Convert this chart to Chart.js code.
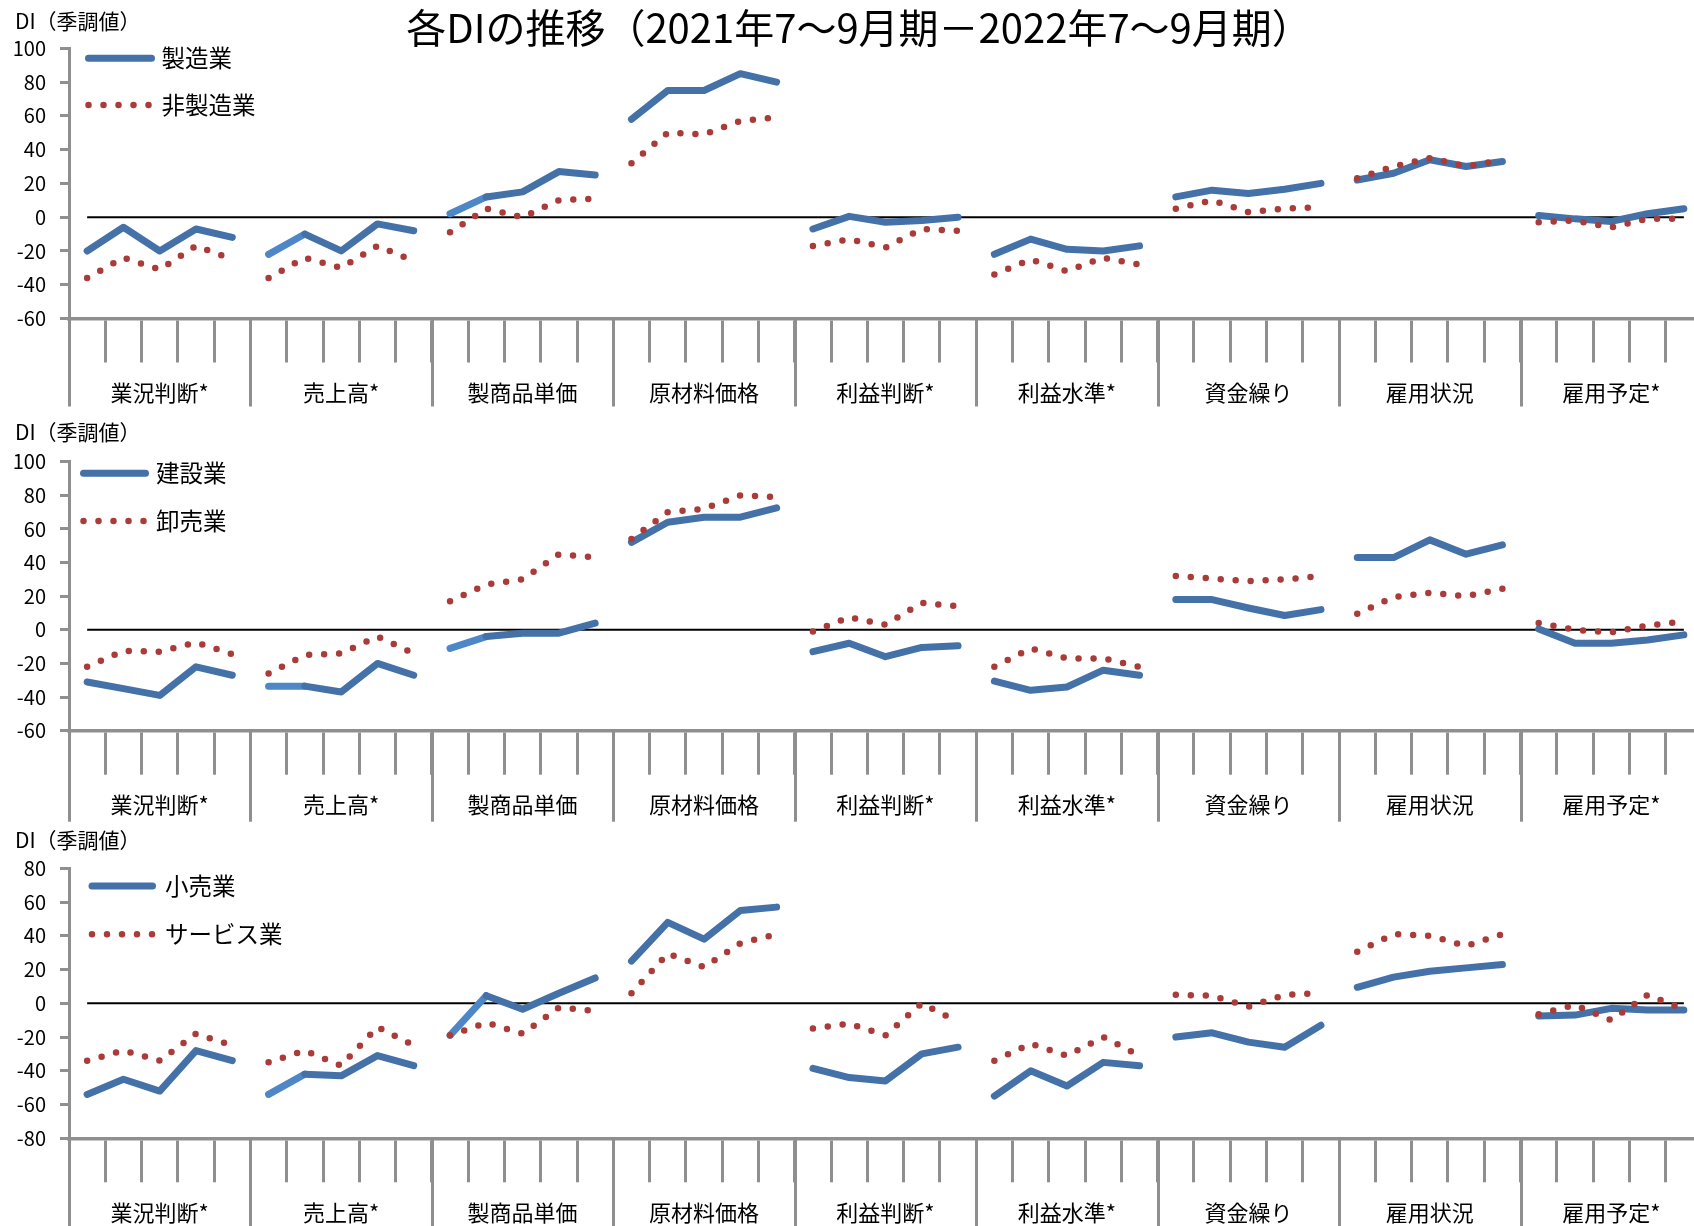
<!DOCTYPE html>
<html lang="ja">
<head>
<meta charset="utf-8">
<title>各DIの推移</title>
<script src="https://cdn.jsdelivr.net/npm/chart.js@4.4.1/dist/chart.umd.min.js"></script>
<style>
  html, body { margin: 0; padding: 0; background: #fff; overflow: hidden; }
  #page { position: relative; width: 1694px; height: 1226px; overflow: hidden; background: #fff; }
  .panel { position: absolute; left: 0; }
  canvas { display: block; }
</style>
</head>
<body>
<div id="page">
  <div class="panel" style="top:0px"><canvas id="c1" width="1710" height="420" style="width:1710px;height:420px"></canvas></div>
  <div class="panel" style="top:410px"><canvas id="c2" width="1710" height="420" style="width:1710px;height:420px"></canvas></div>
  <div class="panel" style="top:820px"><canvas id="c3" width="1710" height="406" style="width:1710px;height:406px"></canvas></div>
</div>
<script>
// ---- survey items (groups on the x axis) and the five quarters inside each group ----
const categories = ['業況判断*', '売上高*', '製商品単価', '原材料価格', '利益判断*', '利益水準*', '資金繰り', '雇用状況', '雇用予定*'];
const quarters = ['2021年7～9月', '10～12月', '2022年1～3月', '4～6月', '7～9月'];

const chartTitle = '各DIの推移（2021年7～9月期－2022年7～9月期）';
const yAxisTitle = 'DI（季調値）';

// ---- DI values, 5 quarters per item, items in the order of `categories` ----
const manufacturing = [
  -20, -6, -20, -7, -12,
  -22, -10, -20, -4, -8,
  2, 12, 15, 27, 25,
  58, 75, 75, 85, 80,
  -7, 0.5, -3, -2, 0,
  -22, -13, -19, -20, -17,
  12, 16, 14, 16.5, 20,
  22, 26, 34, 30, 33,
  1, -1, -2.5, 2, 5
];
const nonManufacturing = [
  -36, -24, -31, -17, -25,
  -36, -24, -30, -17, -26,
  -9, 5, 0, 10, 11,
  32, 50, 49, 57, 59,
  -17, -13, -18, -7, -8,
  -34, -25, -32, -24, -28,
  5, 10, 3, 5, 6,
  23, 30, 35, 30, 34,
  -3, -2, -6, -1, -1
];
const construction = [
  -31, -35, -39, -22, -27,
  -33.5, -33.5, -37, -20, -27,
  -11, -4, -2, -2, 4,
  52, 64, 67, 67, 72.5,
  -13, -8, -16, -10.5, -9.5,
  -30.5, -36, -34, -24, -27,
  18, 18, 13, 8.5, 12,
  43, 43, 53.5, 45, 50.5,
  0.5, -8, -8, -6, -3
];
const wholesale = [
  -22, -12.5, -13, -7.5, -14.5,
  -26, -15, -14, -4, -14,
  17, 27, 30, 45, 43,
  54, 70, 72, 80, 79,
  -1, 7.5, 3, 16, 14,
  -22, -11, -17, -17, -22,
  32, 30.5, 29, 30, 32,
  9.5, 19.5, 22, 20, 24.5,
  4, 0, -1.5, 2.5, 5
];
const retail = [
  -54, -45, -52, -28, -34,
  -54, -42, -43, -31, -37,
  -19, 4.5, -3.5, 6, 15,
  25, 48, 38, 55, 57,
  -38.5, -44, -46, -30, -26,
  -55, -40, -49, -35, -37,
  -20, -17.5, -23, -26, -13,
  9.5, 15.5, 19, 21, 23,
  -7.5, -7, -3, -4, -4
];
const services = [
  -34, -28, -34, -18, -25,
  -35, -28, -37, -14, -25,
  -19, -11.5, -18, -2.5, -4.5,
  6, 29.5, 21.5, 35.5, 41,
  -15, -12, -19, 0, -11,
  -34, -24, -31, -20, -31,
  5, 4.5, -2, 5, 6,
  30.5, 41, 40, 34, 41,
  -6.5, -1, -10, 5, -3.5
];

// ---- value axis ranges per panel ----
const yRangeTop = [-60, 100];
const yRangeMiddle = [-60, 100];
const yRangeBottom = [-80, 80];
const yStep = 20;

// ---- styling ----
const FONT = '"Noto Sans CJK JP", "Noto Sans", sans-serif';
const BLUE = '#4371a8';
const BLUE_LIGHT = '#4d87c8';
const RED = '#a93b39';
const GRAY = '#8f8f8f';
const PER_GROUP = quarters.length;
const PLOT_LEFT = 69;
const PLOT_RIGHT = 1702;

const xLabels = [];
categories.forEach(c => quarters.forEach(q => xLabels.push(c + ' ' + q)));

// segments that join two different items are not drawn
const betweenGroups = ctx => (ctx.p0DataIndex % PER_GROUP) === PER_GROUP - 1;

// zero reference line, long separators between items
const framePlugin = {
  id: 'groupFrame',
  beforeDatasetsDraw(chart, args, opts) {
    const { ctx, chartArea } = chart;
    const x = chart.scales.x, y = chart.scales.y;
    ctx.save();
    ctx.strokeStyle = GRAY;
    ctx.lineWidth = 3;
    ctx.lineCap = 'butt';
    for (let g = 0; g <= categories.length; g++) {
      let px;
      if (g === 0) px = x.left;
      else if (g === categories.length) px = x.right;
      else px = (x.getPixelForValue(g * PER_GROUP - 1) + x.getPixelForValue(g * PER_GROUP)) / 2;
      px = Math.round(px) + 0.5;
      ctx.beginPath();
      ctx.moveTo(px, chartArea.bottom);
      ctx.lineTo(px, chartArea.bottom + opts.sepLength);
      ctx.stroke();
    }
    const y0 = y.getPixelForValue(0);
    ctx.strokeStyle = '#000';
    ctx.lineWidth = 2;
    ctx.beginPath();
    ctx.moveTo(x.getPixelForValue(0), y0);
    ctx.lineTo(x.getPixelForValue(xLabels.length - 1), y0);
    ctx.stroke();
    ctx.restore();
  }
};

// in-plot legend, axis caption and the page title
const textPlugin = {
  id: 'panelText',
  afterDraw(chart, args, opts) {
    const { ctx } = chart;
    ctx.save();
    ctx.fillStyle = '#000';
    ctx.textBaseline = 'middle';
    ctx.textAlign = 'left';
    ctx.font = '21px ' + FONT;
    ctx.fillText(yAxisTitle, 15, opts.captionY);

    chart.data.datasets.forEach((ds, i) => {
      const yy = opts.legendRows[i];
      ctx.save();
      ctx.strokeStyle = ds.borderColor;
      ctx.lineWidth = ds.borderWidth;
      ctx.lineCap = 'round';
      ctx.setLineDash(ds.borderDash || []);
      ctx.beginPath();
      ctx.moveTo(opts.legendX0, yy);
      ctx.lineTo(opts.legendX1, yy);
      ctx.stroke();
      ctx.restore();
      ctx.font = '23.5px ' + FONT;
      ctx.fillText(ds.label, opts.legendTextX, yy);
    });

    if (opts.title) {
      ctx.textAlign = 'center';
      ctx.font = '40px ' + FONT;
      ctx.fillText(opts.title, 859, 27.5);
    }
    ctx.restore();
  }
};

function buildChart(canvasId, names, solid, dotted, yRange, geo) {
  const canvas = document.getElementById(canvasId);
  const H = canvas.height;
  return new Chart(canvas, {
    type: 'line',
    data: {
      labels: xLabels,
      datasets: [
        {
          label: names[0],
          data: solid,
          borderColor: BLUE,
          borderWidth: 7,
          borderCapStyle: 'round',
          borderJoinStyle: 'round',
          pointRadius: 0,
          pointHoverRadius: 0,
          tension: 0,
          fill: false,
          order: 1,
          segment: {
            borderColor: c => betweenGroups(c) ? 'rgba(0,0,0,0)'
              : ((c.p0DataIndex === PER_GROUP || c.p0DataIndex === 2 * PER_GROUP) ? BLUE_LIGHT : undefined)
          }
        },
        {
          label: names[1],
          data: dotted,
          borderColor: RED,
          borderWidth: 6.5,
          borderDash: [0, 15],
          borderCapStyle: 'round',
          borderJoinStyle: 'round',
          pointRadius: 0,
          pointHoverRadius: 0,
          tension: 0,
          fill: false,
          order: 0,
          segment: {
            borderColor: c => betweenGroups(c) ? 'rgba(0,0,0,0)' : undefined
          }
        }
      ]
    },
    options: {
      responsive: false,
      animation: false,
      devicePixelRatio: 1,
      events: [],
      layout: { padding: { top: geo.top, left: 0, right: canvas.width - PLOT_RIGHT, bottom: 0 } },
      plugins: {
        legend: { display: false },
        tooltip: { enabled: false },
        title: { display: false },
        groupFrame: { sepLength: geo.sepLength },
        panelText: {
          captionY: geo.captionY,
          legendRows: geo.legendRows,
          legendX0: geo.legendX0,
          legendX1: geo.legendX1,
          legendTextX: geo.legendTextX,
          title: geo.title || null
        }
      },
      scales: {
        x: {
          type: 'category',
          offset: true,
          grid: {
            offset: true,
            drawOnChartArea: false,
            drawTicks: true,
            tickLength: 44,
            tickWidth: 3,
            tickColor: GRAY,
            color: GRAY
          },
          border: { display: true, color: GRAY, width: 3.5 },
          ticks: {
            autoSkip: false,
            maxRotation: 0,
            minRotation: 0,
            padding: 17,
            color: '#000',
            font: { family: FONT, size: 22 },
            callback: (v, i) => (i % PER_GROUP === 2) ? categories[Math.floor(i / PER_GROUP)] : ''
          },
          afterFit: s => { s.height = H - geo.bottom; }
        },
        y: {
          min: yRange[0],
          max: yRange[1],
          grid: {
            drawOnChartArea: false,
            drawTicks: true,
            tickLength: 9,
            tickWidth: 3,
            tickColor: GRAY,
            color: GRAY
          },
          border: { display: true, color: GRAY, width: 3 },
          ticks: {
            stepSize: yStep,
            padding: 14,
            color: '#000',
            font: { family: FONT, size: 20 }
          },
          afterFit: s => { s.width = PLOT_LEFT; }
        }
      }
    },
    plugins: [framePlugin, textPlugin]
  });
}

buildChart('c1', ['製造業', '非製造業'], manufacturing, nonManufacturing, yRangeTop, {
  top: 48.3, bottom: 318.5, sepLength: 88, captionY: 21.3,
  legendRows: [58.3, 105], legendX0: 88.5, legendX1: 151.5, legendTextX: 161.5,
  title: chartTitle
});
buildChart('c2', ['建設業', '卸売業'], construction, wholesale, yRangeMiddle, {
  top: 51.7, bottom: 320.7, sepLength: 91, captionY: 21.7,
  legendRows: [63.3, 111], legendX0: 83.5, legendX1: 145.5, legendTextX: 156
});
buildChart('c3', ['小売業', 'サービス業'], retail, services, yRangeBottom, {
  top: 48.3, bottom: 318.3, sepLength: 100, captionY: 20.5,
  legendRows: [66, 114.3], legendX0: 92, legendX1: 152.5, legendTextX: 165
});
</script>
</body>
</html>
